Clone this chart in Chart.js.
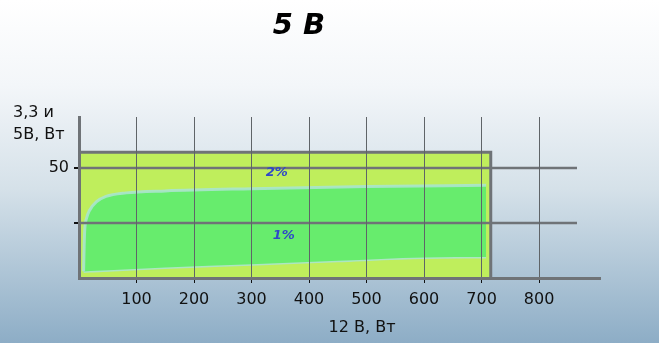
<!DOCTYPE html>
<html>
<head>
<meta charset="utf-8">
<script src="https://cdn.jsdelivr.net/npm/chart.js@4"></script>
<style>
  html, body { margin: 0; padding: 0; }
  body {
    width: 659px; height: 343px; overflow: hidden;
    background: linear-gradient(to bottom, #ffffff 0%, #f3f6f9 25%, #d5e1e9 55%, #8dadc6 100%);
  }
  canvas { display: block; }
</style>
</head>
<body>
<canvas id="chart" width="659" height="343"></canvas>
<script>
// 12 V power (W) vs 3.3+5 V power (W)
const xTicks = [100, 200, 300, 400, 500, 600, 700, 800];
const yTicks = [25, 50];
const yTickLabels = ['', '50'];
const yGridEnd = 866; // horizontal lines stop short of the axis end

// whole permitted area (outline of the yellow-green box)
const areaX = [0, 0, 716, 716];
const areaY = [0, 57, 57, 0];

// 1% band: upper and lower edges
const upperX = [8, 9, 10, 13, 18, 30, 47, 82, 150, 300, 500, 708];
const upperY = [3, 15, 22, 27, 30.5, 34.5, 37, 38.6, 39.5, 40.5, 41.5, 42];
const lowerX = [8, 20, 60, 150, 300, 450, 600, 708];
const lowerY = [3, 3.2, 3.6, 4.8, 6.2, 7.8, 9.3, 9.5];

const zoneLabels = ['2%', '1%'];
const zoneX = [344, 356];
const zoneY = [48, 19];

const pts = (xs, ys) => xs.map((x, i) => ({ x: x, y: ys[i] }));

const textPlugin = {
    id: 'texts',
    afterDatasetsDraw(chart) {
        // horizontal grid lines on top of the fills
        const ctx = chart.ctx;
        const sx = chart.scales.x, sy = chart.scales.y;
        ctx.save();
        ctx.strokeStyle = '#6f7377';
        ctx.lineWidth = 2.5;
        yTicks.forEach(v => {
            const y = Math.round(sy.getPixelForValue(v));
            ctx.beginPath();
            ctx.moveTo(sx.getPixelForValue(0), y);
            ctx.lineTo(sx.getPixelForValue(yGridEnd), y);
            ctx.stroke();
        });
        ctx.restore();
    },
    afterDraw(chart) {
        const ctx = chart.ctx;
        const sx = chart.scales.x, sy = chart.scales.y;
        ctx.save();
        ctx.fillStyle = '#000';
        ctx.textAlign = 'center';
        ctx.textBaseline = 'alphabetic';
        ctx.font = 'italic bold 29px "DejaVu Sans"';
        ctx.fillText('5 В', 299, 34);

        ctx.fillStyle = '#111';
        ctx.font = '16px "DejaVu Sans"';
        ctx.textAlign = 'left';
        ctx.fillText('3,3 и', 13, 117);
        ctx.fillText('5В, Вт', 13, 139);
        ctx.textAlign = 'center';
        ctx.fillText('12 В, Вт', 362, 332);

        ctx.fillStyle = '#2f48c8';
        ctx.font = 'italic bold 13px "DejaVu Sans"';
        ctx.textBaseline = 'middle';
        zoneLabels.forEach((t, i) => {
            ctx.fillText(t, sx.getPixelForValue(zoneX[i]), sy.getPixelForValue(zoneY[i]));
        });
        ctx.restore();
    }
};

const ctx = document.getElementById('chart').getContext('2d');
const chart = new Chart(ctx, {
    type: 'line',
    data: {
        datasets: [
            {
                label: '1% upper',
                data: pts(upperX, upperY),
                borderColor: 'rgba(170,228,205,0.9)',
                borderWidth: 3,
                backgroundColor: '#67ec6d',
                fill: '+1',
                pointRadius: 0,
                cubicInterpolationMode: 'monotone'
            },
            {
                label: '1% lower',
                data: pts(lowerX, lowerY),
                borderColor: 'rgba(170,228,205,0.9)',
                borderWidth: 3,
                fill: false,
                pointRadius: 0,
                cubicInterpolationMode: 'monotone'
            },
            {
                label: '2%',
                data: pts(areaX, areaY),
                borderColor: '#6f7377',
                borderWidth: 3,
                backgroundColor: '#bfee5c',
                fill: 'origin',
                pointRadius: 0,
                tension: 0
            }
        ]
    },
    options: {
        responsive: false,
        animation: false,
        layout: { padding: { top: 117, right: 59, left: 0, bottom: 0 } },
        plugins: {
            legend: { display: false },
            tooltip: { enabled: false }
        },
        scales: {
            x: {
                type: 'linear',
                min: 0,
                max: 906,
                afterBuildTicks: s => { s.ticks = xTicks.map(v => ({ value: v })); },
                afterFit: s => { s.height = 65; },
                ticks: {
                    color: '#111',
                    font: { family: 'DejaVu Sans', size: 16 },
                    padding: 7,
                    maxRotation: 0,
                    autoSkip: false
                },
                grid: { color: '#5f6468', lineWidth: 1, tickColor: '#111', tickLength: 5, z: 1 },
                border: { color: '#6f7377', width: 3, z: 2 }
            },
            y: {
                type: 'linear',
                min: 0,
                max: 73,
                afterBuildTicks: s => { s.ticks = yTicks.map(v => ({ value: v })); },
                afterFit: s => { s.width = 79; },
                ticks: {
                    color: '#111',
                    font: { family: 'DejaVu Sans', size: 16 },
                    padding: 5,
                    autoSkip: false,
                    callback: (v, i) => yTickLabels[i]
                },
                grid: { drawOnChartArea: false, tickColor: '#111', tickLength: 5, lineWidth: 2 },
                border: { color: '#6f7377', width: 3, z: 2 }
            }
        }
    },
    plugins: [textPlugin]
});
</script>
</body>
</html>
